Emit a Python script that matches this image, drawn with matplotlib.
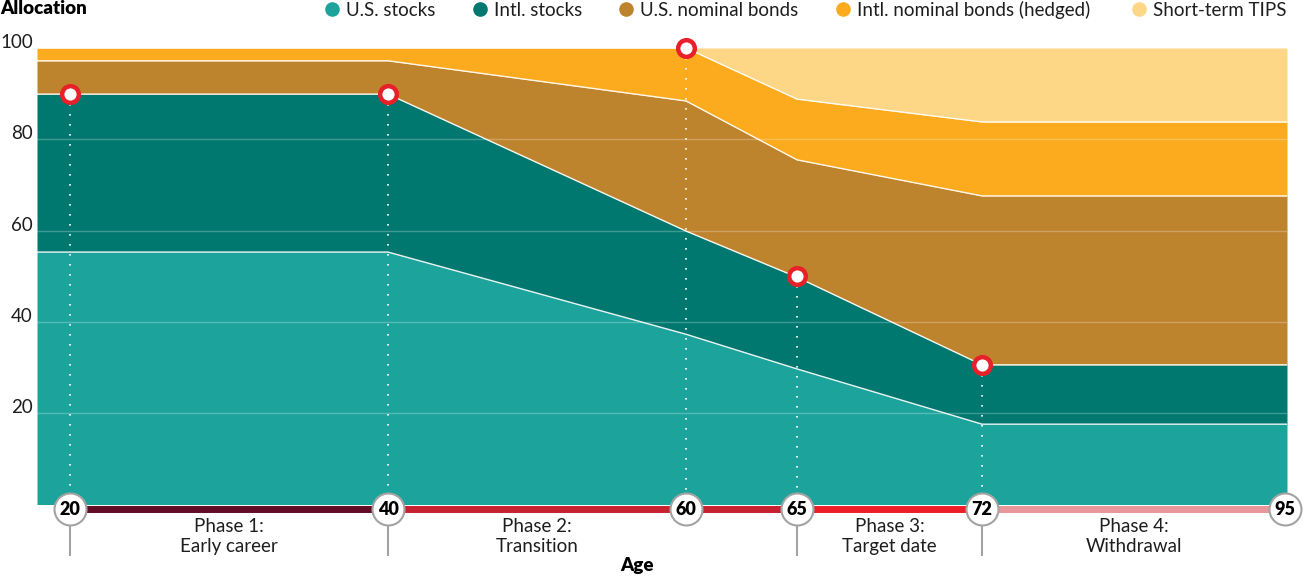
"""Glide path allocation chart by age (stacked areas)."""

import matplotlib

matplotlib.use("Agg")
import matplotlib.pyplot as plt
import numpy as np
from matplotlib.lines import Line2D

# --- data -----------------------------------------------------------------
ages = [20, 40, 60, 65, 72, 95]
us_stocks = [55.3, 55.3, 37.3, 29.7, 17.6, 17.6]
intl_stocks = [34.6, 34.6, 22.6, 20.1, 13.0, 13.0]
us_bonds = [7.3, 7.3, 28.5, 25.7, 37.0, 37.0]
intl_bonds = [2.8, 2.8, 11.6, 13.3, 16.2, 16.2]
tips = [0.0, 0.0, 0.0, 11.2, 16.2, 16.2]

series_names = [
    "U.S. stocks",
    "Intl. stocks",
    "U.S. nominal bonds",
    "Intl. nominal bonds (hedged)",
    "Short-term TIPS",
]

marker_ages = [20, 40, 60, 65, 72]
marker_values = [90, 90, 100, 50, 30.6]

phase_spans = [(20, 40), (40, 60), (65, 72), (72, 95)]
phase_labels = [
    "Phase 1:\nEarly career",
    "Phase 2:\nTransition",
    "Phase 3:\nTarget date",
    "Phase 4:\nWithdrawal",
]
bar_spans = [(20, 40), (40, 65), (65, 72), (72, 95)]
tick_ages = [20, 40, 65, 72]
y_ticks = [20, 40, 60, 80, 100]

# --- style ----------------------------------------------------------------
colors = ["#1ca39c", "#00786f", "#be832d", "#fbab1d", "#fdd686"]
bar_colors = ["#620b27", "#c7202f", "#ee1d27", "#e8959b"]
RED = "#e8202a"
GREY = "#a3a3a3"
TEXT = "#1e1e1e"

# the age axis is drawn with uneven spacing, so map ages to layout positions
age_pos = [70, 388, 686, 797, 982, 1285]
X_LEFT, X_RIGHT = 37, 1287


def to_x(age):
    return np.interp(age, ages, age_pos)


plt.rcParams["font.family"] = ["Lato", "DejaVu Sans"]

W, H = 1304, 577
fig = plt.figure(figsize=(W / 100, H / 100), dpi=100)
y0_px, y100_px = 504.5, 48
ax = fig.add_axes([
    X_LEFT / W,
    (H - y0_px) / H,
    (X_RIGHT - X_LEFT) / W,
    (y0_px - y100_px) / H,
])
ax.set_xlim(X_LEFT, X_RIGHT)
ax.set_ylim(0, 100)
ax.axis("off")

x = np.r_[X_LEFT, to_x(ages)]
x[-1] = X_RIGHT
stack = [np.r_[s[0], s] for s in (us_stocks, intl_stocks, us_bonds, intl_bonds, tips)]
cum = np.cumsum(stack, axis=0)
bottoms = np.vstack([np.zeros_like(x), cum[:-1]])

for i, color in enumerate(colors):
    ax.fill_between(x, bottoms[i], cum[i], color=color, lw=0, zorder=1)

for v in y_ticks[:-1]:
    ax.axhline(v, color="white", alpha=0.25, lw=1, zorder=2)

for i in range(len(colors) - 1):
    ax.plot(x, cum[i], color="white", lw=1, zorder=3, alpha=0.9)

# dotted guides and glide-path markers
mx = to_x(marker_ages)
for xi, yi in zip(mx, marker_values):
    ax.plot([xi, xi], [yi, -1], color="white", lw=1.2,
            linestyle=(0, (1, 5)), zorder=4, clip_on=False)
ax.plot(mx, marker_values, "o", ms=12, mew=3.2, mfc="white", mec=RED,
        zorder=6, clip_on=False)

# y labels
for v in y_ticks:
    ax.text(-4 / (X_RIGHT - X_LEFT), v, str(v), ha="right", va="baseline",
            fontsize=13.5, color=TEXT, transform=ax.get_yaxis_transform())

# age bar
bar_y = -0.9
for (a, b), c in zip(bar_spans, bar_colors):
    ax.plot([to_x(a), to_x(b)], [bar_y, bar_y], color=c, lw=5,
            solid_capstyle="butt", zorder=7, clip_on=False)

for a in tick_ages:
    ax.plot([to_x(a)] * 2, [-4.5, -11.0], color=GREY, lw=1.5,
            zorder=7, clip_on=False)

ax.scatter(to_x(ages), [-1.0] * len(ages), s=530, facecolor="white",
           edgecolor=GREY, linewidth=1.5, zorder=8, clip_on=False)
for a in ages:
    ax.text(to_x(a), -1.1, str(a), ha="center", va="center", fontsize=13,
            fontweight="heavy", color="black", zorder=9, clip_on=False)

for (a, b), label in zip(phase_spans, phase_labels):
    ax.text((to_x(a) + to_x(b)) / 2, -7.0, label, ha="center", va="center",
            fontsize=13.5, linespacing=1.2, color=TEXT, clip_on=False)

fig.text(637 / W, 1 - 566 / H, "Age", ha="center", va="center",
         fontsize=13.5, fontweight="heavy", color="black")
fig.text(0, 1 - 9 / H, "Allocation", ha="left", va="center",
         fontsize=13.5, fontweight="heavy", color="black")

# legend
legend_circle_x = [332, 480, 626, 843, 1139]
for cx, name, color in zip(legend_circle_x, series_names, colors):
    fig.add_artist(Line2D([cx / W], [1 - 9 / H], marker="o", ms=10.5,
                          color=color, mec="none", transform=fig.transFigure))
    fig.text((cx + 14) / W, 1 - 10 / H, name, ha="left", va="center",
             fontsize=13.5, color=TEXT)

fig.savefig("out.png", dpi=100)
